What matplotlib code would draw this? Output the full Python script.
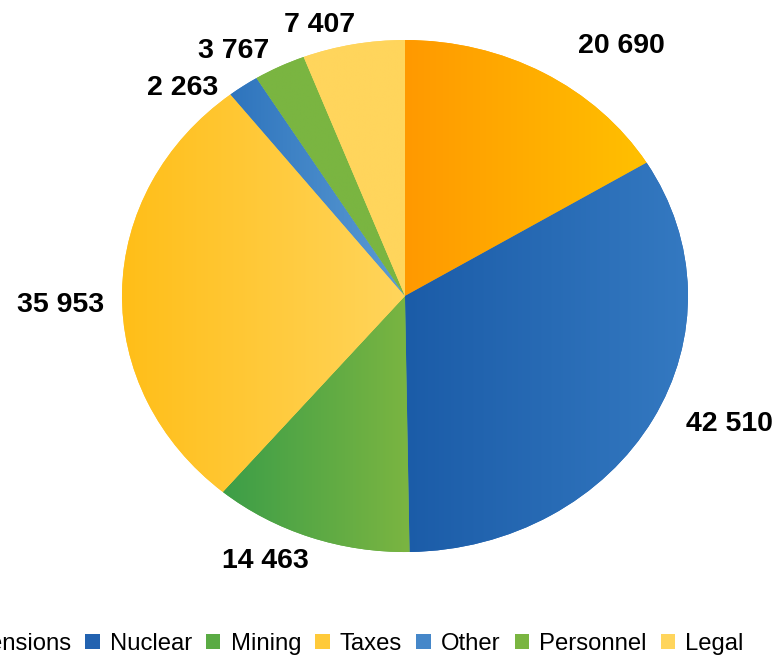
import numpy as np
import matplotlib
matplotlib.use('Agg')
import matplotlib.pyplot as plt
from matplotlib.colors import LinearSegmentedColormap

labels = ['Pensions', 'Nuclear', 'Mining', 'Taxes', 'Other', 'Personnel', 'Legal']
values = [20690, 42510, 14463, 35953, 2263, 3767, 7407]
value_text = ['20 690', '42 510', '14 463', '35 953', '2 263', '3 767', '7 407']

# each slice is shaded left -> right
grad_left = ['#ff9900', '#1b5ca8', '#3c9e48', '#ffbe18', '#2e74bd', '#7ab541', '#ffd55c']
grad_right = ['#ffc000', '#3479c1', '#7bb541', '#ffd55c', '#5c9cd4', '#7ab541', '#ffd55c']
legend_col = ['#ffad00', '#2262b0', '#5aab44', '#ffca3a', '#4587c9', '#7ab541', '#ffd55c']

# where each value label sits, in pixels from the slice's outer edge mid point
label_off = [(78, 30), (77, -1), (-45, -21), (-61, -10), (-61, 1), (-46, 19), (-34, 22)]

plt.rcParams['font.family'] = ['Liberation Sans', 'DejaVu Sans']

fig = plt.figure(figsize=(7.81, 6.56), dpi=100)
ax = fig.add_axes([0.1562, 0.1585, 0.7247, 0.7805])
wedges, _ = ax.pie(values, startangle=90, counterclock=False, colors=legend_col,
                   wedgeprops=dict(linewidth=0))

grad = np.linspace(0, 1, 256).reshape(1, -1)
for w, c0, c1 in zip(wedges, grad_left, grad_right):
    ext = w.get_path().get_extents()
    cmap = LinearSegmentedColormap.from_list('g', [c0, c1])
    im = ax.imshow(grad, cmap=cmap, extent=[ext.x0, ext.x1, ext.y0, ext.y1],
                   aspect='auto', interpolation='bilinear', zorder=2)
    im.set_clip_path(w)

ax.set_aspect('auto')
ax.set_xlim(-1, 1)
ax.set_ylim(-1, 1)
ax.axis('off')

fs = 20.5
half_h = 0.358 * fs * 100 / 72
for w, t, (dx, dy) in zip(wedges, value_text, label_off):
    ang = np.deg2rad((w.theta1 + w.theta2) / 2)
    ax.annotate(t, (np.cos(ang), np.sin(ang)), xytext=(dx, dy - half_h),
                textcoords='offset pixels', ha='center', va='baseline',
                fontsize=fs, fontweight='bold', annotation_clip=False)

fig.legend(wedges, labels, loc='center', bbox_to_anchor=(0.443, 0.018), ncol=7,
           frameon=False, fontsize=17.2, handlelength=0.6, handleheight=0.6,
           handletextpad=0.42, columnspacing=0.6)

plt.savefig('out.png', dpi=100)
